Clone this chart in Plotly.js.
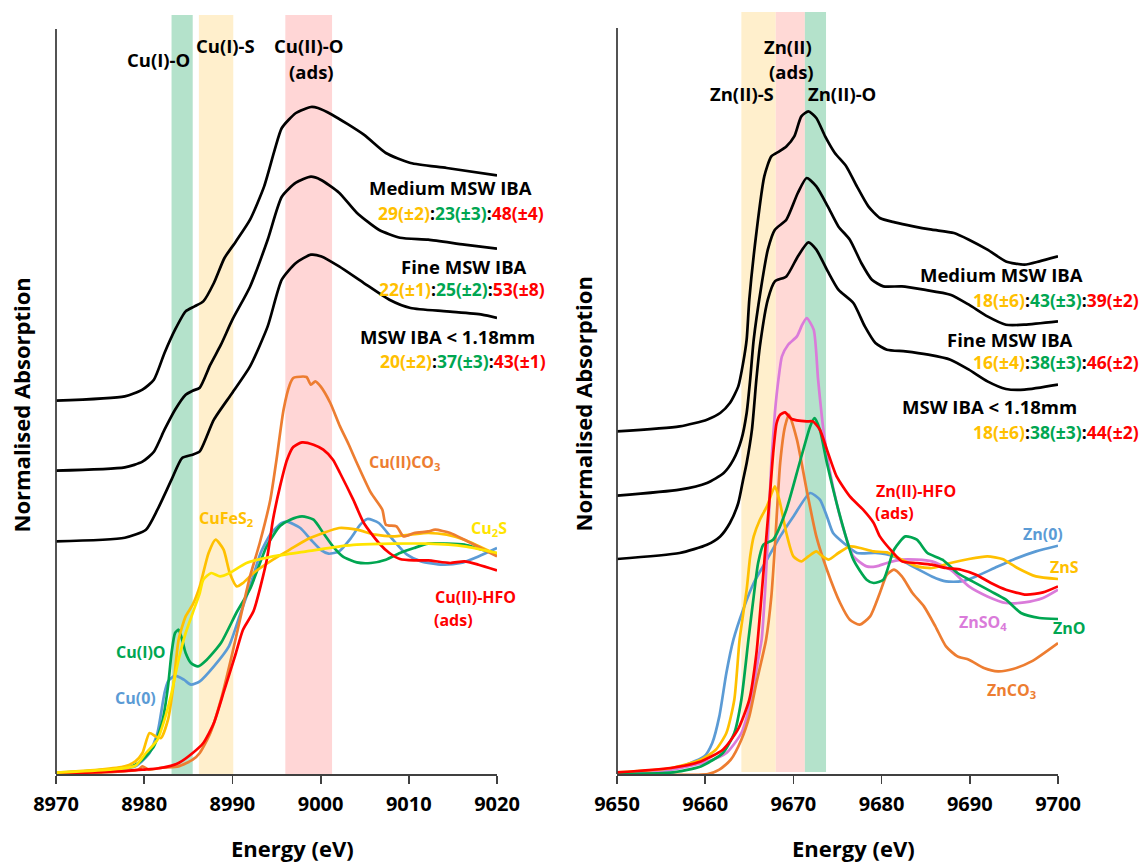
<!DOCTYPE html>
<html><head><meta charset="utf-8">
<script src="https://cdn.plot.ly/plotly-3.0.1.min.js"></script>
<style>html,body{margin:0;padding:0;background:#fff}#chart{width:1143px;height:862px}</style>
</head><body><div id="chart"></div>
<script>
// ---------------- Cu K-edge (left panel) ----------------
const cuMediumE = [8970,8977.8,8979.8,8981.1,8982.3,8983.5,8984.7,8985.7,8986.7,8987.9,8989.1,8990.4,8992.0,8993.6,8994.8,8995.6,8997.2,8998.9,8999.7,9001.3,9004.9,9007.4,9010.2,9014.3,9020];
const cuMediumY = [3.733,3.776,3.843,3.943,4.21,4.443,4.626,4.676,4.726,4.91,5.16,5.326,5.543,5.876,6.243,6.46,6.61,6.67,6.66,6.593,6.393,6.21,6.11,6.06,5.986];
const cuFineE = [8970,8977.8,8979.8,8981.1,8982.3,8983.5,8984.7,8985.5,8986.3,8987.5,8988.7,8990,8992,8994,8995.6,8997.2,8998.9,9000,9002.1,9004.1,9006.6,9009,9012.2,9016.3,9020];
const cuFineY = [3.033,3.066,3.123,3.223,3.443,3.643,3.793,3.833,3.863,4.093,4.293,4.543,4.873,5.343,5.773,5.913,5.973,5.943,5.813,5.613,5.443,5.363,5.343,5.293,5.253];
const cuSmallE = [8970,8977.8,8980.2,8981.5,8983.1,8984.3,8985.5,8986.3,8987.9,8990,8992,8994,8995.6,8997.2,8998.9,9000.1,9002.1,9004.9,9007.8,9010.2,9014.3,9018.3,9020];
const cuSmallY = [2.326,2.363,2.443,2.643,2.943,3.16,3.193,3.226,3.543,3.813,4.076,4.476,4.943,5.11,5.193,5.176,5.076,4.91,4.743,4.66,4.626,4.593,4.56];

const cuCO3E = [8970,8975,8979.3,8979.8,8980.5,8982,8983.9,8985.5,8986.3,8987.5,8988.7,8990,8991.2,8992,8993.1,8994.3,8995,8995.8,8996.5,8996.9,8997.3,8998.4,8998.9,8999.4,9000,9001.1,9002.2,9003.2,9004.1,9005.7,9007,9007.4,9008.6,9009.4,9010.6,9012.2,9013,9014.7,9016.3,9020];
const cuCO3Y = [0.0,0.013,0.043,0.076,0.043,0.063,0.076,0.143,0.21,0.41,0.743,1.21,1.676,1.976,2.31,2.743,3.143,3.643,3.893,3.96,3.97,3.97,3.893,3.926,3.876,3.71,3.476,3.293,3.113,2.813,2.643,2.493,2.476,2.376,2.41,2.426,2.443,2.41,2.343,2.176];
const cuHFOE = [8970,8976,8979.8,8981.9,8983.9,8985.5,8986.7,8987.9,8989.1,8990.4,8991.2,8992.4,8993.9,8994.6,8995.4,8996.2,8996.9,8997.9,8999.2,9000.3,9001.4,9002.2,9003.7,9004.9,9006.6,9007.8,9009,9010.6,9012.2,9014.7,9016.3,9017.9,9020];
const cuHFOY = [0.0,0.023,0.043,0.06,0.11,0.21,0.31,0.51,0.843,1.21,1.443,1.63,2.143,2.543,2.876,3.143,3.27,3.316,3.293,3.243,3.143,3.01,2.743,2.51,2.31,2.21,2.15,2.136,2.136,2.11,2.126,2.093,2.036];
const cuIOE = [8970,8975.8,8978.6,8979.8,8981.1,8982.1,8982.7,8983.1,8983.5,8983.9,8984.3,8984.7,8985.3,8986.1,8987.1,8988.7,8990.5,8992,8993.9,8995.4,8996.5,8997.9,8999.2,9000.3,9001.4,9002.5,9004.1,9005.7,9007.4,9009,9010.6,9012.2,9014.3,9016.3,9018.3,9020];
const cuIOY = [0.01,0.043,0.076,0.143,0.276,0.543,0.876,1.21,1.41,1.443,1.343,1.21,1.11,1.076,1.143,1.31,1.62,1.85,2.28,2.48,2.54,2.576,2.543,2.41,2.276,2.176,2.116,2.11,2.143,2.21,2.26,2.303,2.303,2.293,2.243,2.203];
const cu0E = [8970,8976,8979,8980.6,8981.5,8982.3,8982.7,8983.5,8984.5,8985.3,8986.3,8987.9,8989.6,8990.8,8992,8993.2,8994.4,8995.6,8996.2,8997.7,8998.9,9000.1,9000.9,9002.1,9003.3,9004.5,9005.3,9006.6,9008.2,9009.8,9011.4,9013.8,9015.9,9017.9,9020];
const cu0Y = [0.01,0.033,0.076,0.21,0.41,0.81,0.926,0.983,0.943,0.893,0.926,1.076,1.276,1.576,1.876,2.21,2.41,2.51,2.523,2.46,2.343,2.236,2.203,2.226,2.343,2.493,2.55,2.51,2.343,2.193,2.126,2.093,2.11,2.176,2.26];
const cuFeS2E = [8970,8975,8977.8,8979,8979.8,8980.6,8981.3,8981.9,8982.7,8983.3,8983.9,8984.7,8985.5,8986.3,8987.3,8988.1,8989,8989.7,8990.5,8991.2,8992.4,8994.6,8996.5,8998.4,9000.3,9002.1,9004.1,9006.2,9008.2,9010.2,9012.2,9014.3,9016.3,9020];
const cuFeS2Y = [0.013,0.043,0.076,0.126,0.21,0.41,0.376,0.36,0.543,0.876,1.343,1.576,1.693,1.876,2.21,2.343,2.243,2.01,1.876,1.91,2.01,2.143,2.243,2.343,2.41,2.46,2.443,2.393,2.376,2.393,2.41,2.393,2.343,2.193];
const cu2SE = [8970,8976,8979,8980.2,8981.5,8982.3,8983.1,8983.9,8984.7,8985.5,8986.3,8986.7,8987.6,8988.6,8989.7,8991.6,8994.6,8998.4,9002.2,9004.1,9008.2,9012.2,9016.3,9020];
const cu2SY = [0.013,0.043,0.083,0.21,0.343,0.543,0.81,1.143,1.41,1.61,1.81,1.943,2.01,1.976,2.01,2.11,2.176,2.226,2.276,2.293,2.303,2.303,2.276,2.21];

// ---------------- Zn K-edge (right panel) ----------------
const znMediumE = [9650,9657.1,9660.2,9661.7,9662.8,9663.75,9664.3,9664.7,9665.0,9665.8,9666.7,9667.5,9668.4,9669.2,9670.1,9670.9,9671.7,9672.6,9673.6,9674.7,9676,9677.2,9678.5,9679.8,9681.5,9683.6,9685.7,9688.2,9689.9,9692,9694.1,9696.2,9697.9,9700];
const znMediumY = [3.426,3.476,3.543,3.61,3.71,3.876,4.11,4.343,4.743,5.41,5.976,6.176,6.226,6.276,6.376,6.576,6.626,6.56,6.376,6.21,6.076,5.876,5.676,5.56,5.516,5.476,5.443,5.41,5.343,5.243,5.126,5.093,5.126,5.176];
const znFineE = [9650,9657.1,9660.2,9662.1,9663.2,9664.1,9664.7,9665.1,9665.5,9666.3,9667.1,9667.9,9669.2,9670.5,9671.5,9672.6,9673.9,9675.1,9676.4,9677.7,9678.9,9680.2,9682.3,9684.8,9687.8,9689.9,9692,9694.1,9696.2,9700];
const znFineY = [2.783,2.843,2.91,3.01,3.143,3.343,3.61,3.943,4.343,4.843,5.243,5.443,5.543,5.81,5.96,5.876,5.676,5.476,5.343,5.11,4.943,4.876,4.876,4.843,4.793,4.693,4.576,4.493,4.493,4.526];
const znSmallE = [9650,9657.1,9660.2,9661.7,9662.8,9663.75,9664.3,9664.7,9665.3,9665.8,9666.2,9667.1,9667.9,9669.2,9670.5,9671.7,9672.6,9673.9,9675.1,9676.8,9678.1,9679.3,9680.6,9682.7,9685.3,9687.8,9689.9,9692,9694.1,9696.2,9700];
const znSmallY = [2.15,2.21,2.293,2.376,2.51,2.71,2.943,3.11,3.443,3.943,4.276,4.743,4.926,4.976,5.176,5.316,5.243,5.026,4.843,4.71,4.476,4.31,4.243,4.226,4.193,4.143,4.043,3.926,3.85,3.843,3.893];

const znSO4E = [9650,9656.1,9660.3,9662.4,9664.1,9665.2,9666.0,9666.4,9666.8,9667.15,9667.5,9667.9,9668.3,9668.7,9669.4,9670.4,9671.0,9671.5,9672.3,9672.8,9673.4,9674.1,9674.9,9675.7,9676.8,9678.3,9679.4,9680.6,9682.3,9684,9685.7,9687.8,9689.9,9692,9694.1,9696.2,9698.3,9700];
const znSO4Y = [0,0.043,0.126,0.21,0.41,0.743,1.143,1.343,1.843,2.443,3.11,3.61,3.943,4.176,4.293,4.376,4.493,4.56,4.443,3.943,3.443,3.043,2.71,2.443,2.176,2.076,2.076,2.11,2.143,2.143,2.126,2.043,1.876,1.776,1.71,1.716,1.76,1.843];
const zn0E = [9650,9656.1,9659.9,9660.8,9661.6,9662.4,9663.2,9664.3,9665.5,9667,9668.5,9670,9671.9,9673,9673.8,9674.5,9675.7,9677.2,9679.3,9681.4,9683.5,9685.7,9687.3,9689,9690.7,9692.8,9694.9,9697.5,9700];
const zn0Y = [0.01,0.043,0.176,0.31,0.576,1.01,1.343,1.643,1.91,2.143,2.376,2.576,2.81,2.743,2.576,2.41,2.31,2.21,2.21,2.176,2.076,1.976,1.926,1.926,1.976,2.06,2.143,2.226,2.283];
const znSE = [9650,9656.1,9659.5,9661.2,9662.4,9663.3,9663.9,9664.7,9665.1,9665.5,9666.2,9667,9667.9,9668.4,9669.2,9670,9670.9,9671.7,9672.6,9673.2,9674,9675.1,9676.4,9677.6,9679.1,9680.6,9682.3,9684,9685.7,9687.8,9689.9,9692,9693.7,9695.4,9697.5,9700];
const znSY = [0.016,0.06,0.143,0.243,0.41,0.743,1.343,1.843,2.176,2.376,2.543,2.676,2.876,2.743,2.41,2.176,2.126,2.176,2.226,2.183,2.143,2.21,2.276,2.26,2.226,2.216,2.143,2.076,2.06,2.11,2.15,2.176,2.15,2.06,1.976,1.95];
const znOE = [9650,9656,9659.5,9662,9663.3,9664.1,9664.9,9665.5,9666.0,9666.6,9667.7,9669.2,9670.7,9671.9,9672.4,9673,9673.8,9675.3,9676.8,9678.3,9679.1,9680.2,9681.4,9682.7,9684,9685.2,9686.9,9688.6,9690.3,9692.4,9694.1,9695.8,9697.9,9700];
const znOY = [0,0.013,0.076,0.21,0.41,0.743,1.343,1.776,2.11,2.293,2.343,2.643,3.11,3.476,3.56,3.443,3.11,2.576,2.143,1.943,1.91,1.943,2.243,2.376,2.343,2.21,2.143,2.01,1.926,1.826,1.743,1.61,1.56,1.55];
const znHFOE = [9650,9656.1,9659.5,9662,9663.7,9665,9665.8,9666.4,9667,9667.35,9667.7,9668.1,9668.5,9669.05,9669.8,9671.5,9672.2,9673,9673.8,9674.9,9676.4,9677.9,9679.1,9679.8,9681,9682.3,9684,9685.7,9687.3,9689,9690.7,9692.4,9694.1,9696.4,9698.3,9700];
const znHFOY = [0.016,0.06,0.126,0.243,0.443,0.743,1.2,1.8,2.443,2.81,3.2,3.51,3.593,3.616,3.55,3.526,3.526,3.443,3.243,2.976,2.776,2.643,2.51,2.376,2.243,2.126,2.11,2.093,2.06,2.043,1.993,1.91,1.843,1.793,1.816,1.876];
const znCO3E = [9650,9660.3,9661.6,9662.9,9664.1,9665,9665.8,9666.9,9667.5,9667.9,9668.5,9669.05,9669.5,9670.4,9671.5,9672.6,9673.8,9675.3,9676.4,9677.5,9678.7,9679.8,9680.6,9681.4,9682.3,9683.5,9684.8,9686.1,9687.3,9688.6,9689.9,9691.6,9693.2,9694.9,9697,9700];
const znCO3Y = [0,0,0.043,0.143,0.343,0.576,0.91,1.343,1.776,2.276,3.11,3.476,3.593,3.343,2.843,2.376,2.043,1.71,1.543,1.493,1.576,1.81,1.993,2.043,1.976,1.81,1.676,1.476,1.276,1.176,1.143,1.06,1.026,1.05,1.126,1.31];

// Highlight bands (energy ranges, eV)
const cuBands = [[8983.1, 8985.5], [8986.2, 8990.1], [8996.0, 9001.3]];
const znBands = [[9664.1, 9668.0], [9668.0, 9671.3], [9671.3, 9673.7]];

// Tick labels
const cuTicks = [8970, 8980, 8990, 9000, 9010, 9020];
const znTicks = [9650, 9660, 9670, 9680, 9690, 9700];

// Sample names and fitted fractions (S : O : ads)
const sampleNames = ['Medium MSW IBA', 'Fine MSW IBA', 'MSW IBA &lt; 1.18mm'];
const cuFractions = [['29(±2)','23(±3)','48(±4)'], ['22(±1)','25(±2)','53(±8)'], ['20(±2)','37(±3)','43(±1)']];
const znFractions = [['18(±6)','43(±3)','39(±2)'], ['16(±4)','38(±3)','46(±2)'], ['18(±6)','38(±3)','44(±2)']];

// ---------------- styling / layout ----------------
const COL = {black:'#000000', gold:'#FFC000', yellow:'#FFE400', green:'#00A651', red:'#FF0000', blue:'#5B9BD5', orange:'#ED7D31', pink:'#DA7BDA'};
const FONT = 'Open Sans, Lato, sans-serif';
const W = 1143, H = 862, ML = 56, MR = 85, MT = 11, MB = 88;
const PW = W - ML - MR, PH = H - MT - MB;

function line(x, y, color, axis) {
  return {x: x, y: y, type: 'scatter', mode: 'lines', xaxis: axis === 2 ? 'x2' : 'x', yaxis: axis === 2 ? 'y2' : 'y',
    line: {color: color, width: 2.7, shape: 'spline', smoothing: 0.6}, hoverinfo: 'skip', showlegend: false};
}

const data = [
  line(cu0E, cu0Y, COL.blue, 1),
  line(cuIOE, cuIOY, COL.green, 1),
  line(cuFeS2E, cuFeS2Y, COL.gold, 1),
  line(cuCO3E, cuCO3Y, COL.orange, 1),
  line(cuHFOE, cuHFOY, COL.red, 1),
  line(cu2SE, cu2SY, COL.yellow, 1),
  line(cuMediumE, cuMediumY, COL.black, 1),
  line(cuFineE, cuFineY, COL.black, 1),
  line(cuSmallE, cuSmallY, COL.black, 1),
  line(zn0E, zn0Y, COL.blue, 2),
  line(znSO4E, znSO4Y, COL.pink, 2),
  line(znCO3E, znCO3Y, COL.orange, 2),
  line(znSE, znSY, COL.gold, 2),
  line(znOE, znOY, COL.green, 2),
  line(znHFOE, znHFOY, COL.red, 2),
  line(znMediumE, znMediumY, COL.black, 2),
  line(znFineE, znFineY, COL.black, 2),
  line(znSmallE, znSmallY, COL.black, 2)
];

const cuBandColors = ['#B4E2CB', '#FFEFCC', '#FFD6D6'];
const znBandColors = ['#FFEFCC', '#FFD9D6', '#B4E2CB'];
const shapes = [];
cuBands.forEach((b, i) => shapes.push({type:'rect', xref:'x', yref:'y', x0:b[0], x1:b[1], y0:0, y1:7.59, fillcolor:cuBandColors[i], line:{width:0}, layer:'below'}));
znBands.forEach((b, i) => shapes.push({type:'rect', xref:'x2', yref:'y2', x0:b[0], x1:b[1], y0:0.02, y1:7.62, fillcolor:znBandColors[i], line:{width:0}, layer:'below'}));
// vertical axis lines
shapes.push({type:'line', xref:'paper', yref:'y', x0:0, x1:0, y0:0, y1:7.45, line:{color:'#404040', width:1.8}});
shapes.push({type:'line', xref:'paper', yref:'y2', x0:(617-ML)/PW, x1:(617-ML)/PW, y0:0, y1:7.46, line:{color:'#404040', width:1.8}});

function A(text, px, py, size, color, extra) {
  return Object.assign({text: text, xref:'paper', yref:'paper', x:(px-ML)/PW, y:(H-MB-py)/PH,
    xanchor:'center', yanchor:'middle', showarrow:false, borderpad:0,
    font:{family:FONT, size:size, color:color || COL.black, weight:700}}, extra || {});
}
function R(text, pxRight, py, size) {
  return A(text, pxRight, py, size, COL.black, {xanchor:'right'});
}
function ratio(f) {
  return '<span style="color:' + COL.gold + '">' + f[0] + '</span>:<span style="color:' + COL.green + '">' + f[1] +
         '</span>:<span style="color:' + COL.red + '">' + f[2] + '</span>';
}

const annotations = [
  A('Cu(I)-O', 158.3, 60, 18.5), A('Cu(I)-S', 225.7, 45, 18.5), A('Cu(II)-O', 308, 45, 18.5), A('(ads)', 311.7, 71.7, 18.5),
  A(sampleNames[0], 450, 187.5, 18.5), R(ratio(cuFractions[0]), 545, 213.5, 17.5),
  A(sampleNames[1], 464, 266, 18.5), R(ratio(cuFractions[1]), 546, 289, 17.5),
  A(sampleNames[2], 447.6, 336, 18.5), R(ratio(cuFractions[2]), 547, 360.5, 17.5),
  A('Cu(II)CO<sub>3</sub>', 404, 462, 16, COL.orange), A('CuFeS<sub>2</sub>', 226, 518, 16, COL.gold),
  A('Cu<sub>2</sub>S', 488.5, 528, 16, COL.yellow), A('Cu(II)-HFO', 475.6, 596.7, 16, COL.red),
  A('(ads)', 453.5, 620, 16, COL.red), A('Cu(I)O', 140.5, 651.7, 16, COL.green), A('Cu(0)', 135.6, 698.3, 16, COL.blue),

  A('Zn(II)', 788.3, 46.7, 18.5), A('(ads)', 791.7, 71.7, 18.5), A('Zn(II)-S', 741.7, 93.3, 18.5), A('Zn(II)-O', 842.3, 93.3, 18.5),
  A(sampleNames[0], 1001, 274.5, 18.5), R(ratio(znFractions[0]), 1140, 299.5, 17.5),
  A(sampleNames[1], 1009.6, 339.5, 18.5), R(ratio(znFractions[1]), 1140, 361.5, 17.5),
  A(sampleNames[2], 989, 406, 18.5), R(ratio(znFractions[2]), 1140, 432, 17.5),
  A('Zn(II)-HFO', 915.5, 490.7, 16, COL.red), A('(ads)', 894.5, 513.3, 16, COL.red),
  A('Zn(0)', 1043, 534, 16, COL.blue), A('ZnS', 1064.5, 566.7, 16, COL.gold),
  A('ZnSO<sub>4</sub>', 983, 622, 16, COL.pink), A('ZnO', 1069.5, 628.3, 16, COL.green),
  A('ZnCO<sub>3</sub>', 1011.7, 690, 16, COL.orange),

  A('Energy (eV)', 292, 848, 22), A('Energy (eV)', 853.5, 848, 22),
  A('Normalised Absorption', 20.5, 405, 22, COL.black, {textangle:-90}),
  A('Normalised Absorption', 583.4, 404, 22, COL.black, {textangle:-90})
];

function xax(domain, range, ticks) {
  return {domain: domain, range: range, tickvals: ticks, ticktext: ticks.map(String), ticks:'outside', ticklen:8, tickwidth:1.8,
    tickcolor:'#404040', showline:true, linecolor:'#404040', linewidth:1.8, showgrid:false, zeroline:false,
    ticklabelstandoff: 3,
    tickfont:{family:FONT, size:20, color:'#000', weight:700}, fixedrange:true};
}
function yax(anchor) {
  return {domain:[0,1], range:[0, PH/100], anchor: anchor, showline:false, showgrid:false, zeroline:false,
    showticklabels:false, ticks:'', fixedrange:true};
}

const layout = {
  width: W, height: H, margin:{l:ML, r:MR, t:MT, b:MB, pad:0},
  paper_bgcolor:'#ffffff', plot_bgcolor:'rgba(0,0,0,0)', showlegend:false,
  xaxis: Object.assign(xax([0, (497-ML)/PW], [8970, 9020], cuTicks), {anchor:'y'}),
  yaxis: yax('x'),
  xaxis2: Object.assign(xax([(617-ML)/PW, 1], [9650, 9700], znTicks), {anchor:'y2'}),
  yaxis2: yax('x2'),
  shapes: shapes, annotations: annotations
};

Plotly.newPlot('chart', data, layout, {staticPlot:true, displayModeBar:false});
</script></body></html>
